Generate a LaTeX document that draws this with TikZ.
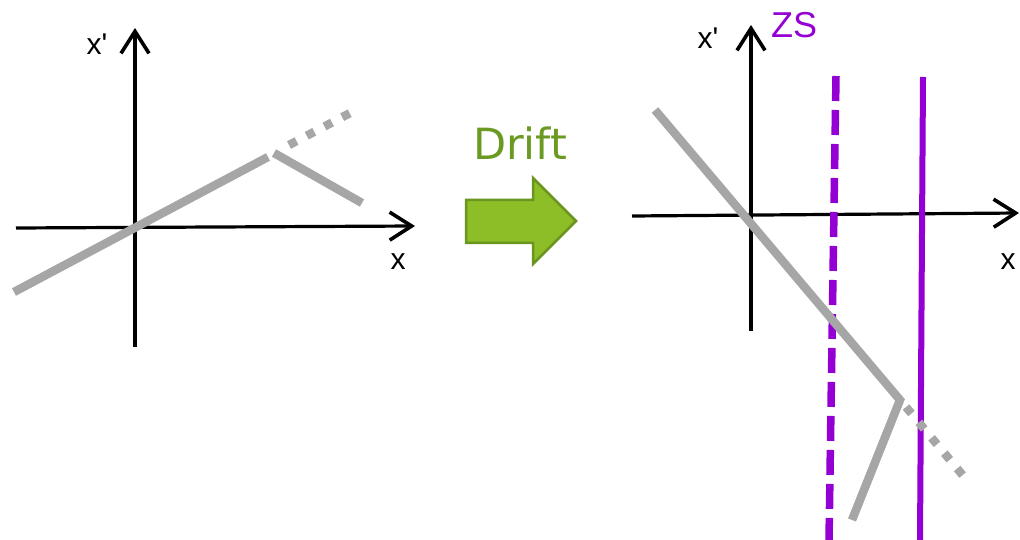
\documentclass[tikz,border=0pt]{standalone}
\usepackage{fontspec}
\setmainfont{Liberation Sans}
\newfontfamily\driftfont{DejaVu Sans}
\usetikzlibrary{arrows.meta}
\definecolor{lgray}{HTML}{A6A6A6}
\definecolor{zspurple}{HTML}{9400D3}
\definecolor{arrfill}{HTML}{8DBE27}
\definecolor{arrdraw}{HTML}{6A951F}
\definecolor{drifttxt}{HTML}{6B9A22}
\begin{document}
\begin{tikzpicture}[x=1pt,y=-1pt,
  axis/.style={line width=3.2pt,-{Straight Barb[length=22pt,width=28pt,line width=3.6pt]}},
  grayline/.style={lgray,line width=8.5pt},
  graydots/.style={lgray,line width=8.5pt,dash pattern=on 8.5pt off 11.5pt},
  lbl/.style={inner sep=0pt,font=\fontsize{30}{32}\selectfont},
  zsline/.style={zspurple,line width=6pt},
  zsdash/.style={zspurple,line width=7.5pt,dash pattern=on 25pt off 9pt}]
\useasboundingbox (0,0) rectangle (1020,540);
% ---- left diagram
\coordinate (LHa) at (16,228);
\coordinate (LHb) at (415,226);
\coordinate (LVa) at (135,347);
\coordinate (LVb) at (135,28);
\draw[axis] (LHa) -- (LHb);
\draw[axis] (LVa) -- (LVb);
\node[lbl] (Lxp) at (97,44) {x\textquotesingle};
\node[lbl] (Lx) at (398,262) {x};
\coordinate (Lg1) at (14,292);
\coordinate (Lg2) at (268,157);
\coordinate (Lg3) at (274,153);
\coordinate (Lg4) at (362,203);
\coordinate (Ld1) at (289,145);
\coordinate (Ld2) at (354,111);
\draw[grayline] (Lg1) -- (Lg2);
\draw[grayline] (Lg3) -- (Lg4);
\draw[graydots] (Ld1) -- (Ld2);
% ---- drift arrow
\node[inner sep=0pt,text=drifttxt,font=\driftfont\fontsize{43}{45}\selectfont] (drift) at (520,143) {Drift};
\draw[arrdraw,fill=arrfill,line width=2.5pt,line join=miter]
  (466,200) -- (533,200) -- (533,178) -- (576,221) -- (533,264) -- (533,243) -- (466,243) -- cycle;
% ---- right diagram
\coordinate (RHa) at (632,216);
\coordinate (RHb) at (1019,213);
\coordinate (RVa) at (751,331);
\coordinate (RVb) at (751,25);
\draw[axis] (RHa) -- (RHb);
\draw[axis] (RVa) -- (RVb);
\node[lbl] (Rxp) at (708,38) {x\textquotesingle};
\node[lbl] (Rx) at (1008,262) {x};
\node[inner sep=0pt,text=zspurple,font=\fontsize{36}{38}\selectfont] (ZS) at (794,25) {ZS};
\coordinate (Zd1) at (836,76);
\coordinate (Zd2) at (829,540);
\coordinate (Zs1) at (923,77);
\coordinate (Zs2) at (920,540);
\draw[zsdash] (Zd1) -- (Zd2);
\draw[zsline] (Zs1) -- (Zs2);
\coordinate (Rg1) at (655,110);
\coordinate (Rg2) at (900,400);
\coordinate (Rg3) at (852,520);
\coordinate (Rd1) at (906,407);
\coordinate (Rd2) at (965,478);
\draw[grayline,line join=miter] (Rg1) -- (Rg2) -- (Rg3);
\draw[graydots] (Rd1) -- (Rd2);
\end{tikzpicture}
\end{document}
